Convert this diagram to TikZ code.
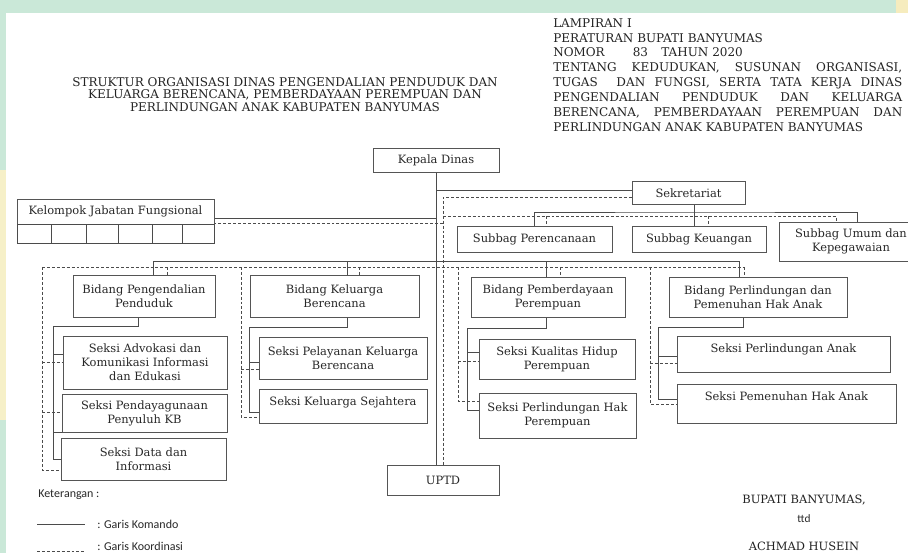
\documentclass[tikz,border=0pt]{standalone}
\usepackage{fontspec}
\setmainfont{DejaVu Serif}
\newfontfamily\ketfont{Carlito}
\usetikzlibrary{calc}

\tikzset{
  unit/.style={draw={rgb, 255:red, 85; green, 85; blue, 85}, line width=0.75pt, fill=white, align=center, inner sep=0pt,
    text={rgb, 255:red, 40; green, 40; blue, 40}, font=\fontsize{8.6}{10.4}\selectfont},
  size/.style 2 args={minimum width=#1*0.75pt, minimum height=#2*0.75pt},
  komando/.style={draw={rgb, 255:red, 75; green, 75; blue, 75}, line width=0.75pt},
  koord/.style={draw={rgb, 255:red, 75; green, 75; blue, 75}, line width=0.6pt, dash pattern={on 2.2pt off 1.5pt}},
  judul/.style={inner sep=0pt, text={rgb, 255:red, 35; green, 35; blue, 35}, font=\fontsize{9}{9.5}\selectfont},
  ketlabel/.style={inner sep=0pt, text={rgb, 255:red, 40; green, 40; blue, 40}, font=\ketfont\fontsize{9}{10}\selectfont},
  raised/.style={text depth=#1},
}

\begin{document}
\begin{tikzpicture}[x=0.75pt,y=0.75pt,yscale=-1,xscale=1]
\useasboundingbox (0,0) rectangle (908,553);
\clip (0,0) rectangle (908,553);

%Background: page on the green watermark
\fill[color={rgb, 255:red, 202; green, 232; blue, 216}] (0,0) rectangle (908,553);
\fill[color={rgb, 255:red, 246; green, 240; blue, 200}] (0,170) rectangle (6,420);
\fill[color={rgb, 255:red, 246; green, 236; blue, 190}] (896,0) rectangle (908,13);
\fill[white] (6,13) rectangle (908,553);

% Text Node: title
\node[judul, align=center] (title) at (285,94.3) {STRUKTUR ORGANISASI DINAS PENGENDALIAN PENDUDUK DAN\\KELUARGA BERENCANA, PEMBERDAYAAN PEREMPUAN DAN\\PERLINDUNGAN ANAK KABUPATEN BANYUMAS};
% Text Node: lampiran
\node[judul, anchor=north west, align=left, font=\fontsize{9}{11.14}\selectfont] (lampiran) at (553,18.2) {LAMPIRAN I\\
PERATURAN BUPATI BANYUMAS\\
NOMOR\hspace{21pt}83\hspace{10pt}TAHUN 2020\\
\makebox[261.75pt][s]{TENTANG KEDUDUKAN, SUSUNAN ORGANISASI,}\\
\makebox[261.75pt][s]{TUGAS \ DAN FUNGSI, SERTA TATA KERJA DINAS}\\
\makebox[261.75pt][s]{PENGENDALIAN PENDUDUK DAN KELUARGA}\\
\makebox[261.75pt][s]{BERENCANA, PEMBERDAYAAN PEREMPUAN DAN}\\
PERLINDUNGAN ANAK KABUPATEN BANYUMAS};

%Shape: Rectangle -- top level
\node[unit, size={126}{24}] (kadis) at (436,160) {Kepala Dinas};
\node[unit, size={113}{23}] (sekre) at (688.5,193) {Sekretariat};
\node[unit, size={197}{25}] (kjf) at (115.5,211.5) {Kelompok Jabatan Fungsional};
\foreach \a/\b in {17/51,51/86,86/118,118/152,152/182,182/214}
  \draw[komando] (\a,224) rectangle (\b,243);
\node[unit, size={112}{30}] (uptd) at (443,480) {UPTD};

%Shape: Rectangle -- subbag
\node[unit, size={155}{26}] (sbpr) at (534.5,239) {Subbag Perencanaan};
\node[unit, size={134}{26}] (sbkeu) at (699,239) {Subbag Keuangan};
\node[unit, size={144}{39}] (sbumum) at (851,241.5) {Subbag Umum dan\\Kepegawaian};

%Shape: Rectangle -- bidang
\node[unit, size={142}{42}] (bid1) at (144,296) {Bidang Pengendalian\\Penduduk};
\node[unit, size={169}{42}] (bid2) at (334.5,296) {Bidang Keluarga\\Berencana};
\node[unit, size={154}{40}] (bid3) at (548,297) {Bidang Pemberdayaan\\Perempuan};
\node[unit, size={178}{40}] (bid4) at (758,297) {Bidang Perlindungan dan\\Pemenuhan Hak Anak};

%Shape: Rectangle -- seksi
\node[unit, size={164}{53}] (s11) at (145,362.5) {Seksi Advokasi dan\\Komunikasi Informasi\\dan Edukasi};
\node[unit, size={165}{38}] (s12) at (144.5,413) {Seksi Pendayagunaan\\Penyuluh KB};
\node[unit, size={165}{42}] (s13) at (143.5,459) {Seksi Data dan\\Informasi};
\node[unit, size={168}{42}] (s21) at (343,358) {Seksi Pelayanan Keluarga\\Berencana};
\node[unit, size={168}{34}, raised=7.5pt] (s22) at (343,406) {Seksi Keluarga Sejahtera};
\node[unit, size={156}{40}] (s31) at (557,359) {Seksi Kualitas Hidup\\Perempuan};
\node[unit, size={157}{45}] (s32) at (557.5,415.5) {Seksi Perlindungan Hak\\Perempuan};
\node[unit, size={213}{36}, raised=9pt] (s41) at (783.5,354) {Seksi Perlindungan Anak};
\node[unit, size={219}{39}, raised=11.25pt] (s42) at (786.5,403.5) {Seksi Pemenuhan Hak Anak};

%Straight Lines -- garis komando, top
\draw[komando] (kadis.south) -- (kadis.south |- uptd.north);
\coordinate (jsek) at (436,190);
\draw[komando] (jsek) -- (jsek -| sekre.west);
\coordinate (jkjf) at (436,218);
\draw[komando] (jkjf) -- (jkjf -| kjf.east);

%Straight Lines -- garis koordinasi, top
\coordinate (dtop) at (443,197);
\draw[koord] (dtop -| sekre.west) -- (dtop) -- (dtop |- uptd.north);
\coordinate (dkjf) at (443,223);
\draw[koord] (dkjf) -- (dkjf -| kjf.east);

%Straight Lines -- sekretariat
\coordinate (sbus) at (694,212);
\coordinate (sbum) at (857,212);
\draw[komando] (sbus |- sekre.south) -- (sbus |- sbkeu.north);
\draw[komando] (sbpr.north) |- (sbus) -- (sbum) -- (sbum |- sbumum.north);
\coordinate (dsb) at (443,216);
\coordinate (dsum) at (836,216);
\draw[koord] (dsb) -- (dsum) -- (dsum |- sbumum.north);
\coordinate (dspr) at (546,216);
\draw[koord] (dspr) -- (dspr |- sbpr.north);
\coordinate (dskeu) at (708,216);
\draw[koord] (dskeu) -- (dskeu |- sbkeu.north);

%Straight Lines -- bidang
\coordinate (bb1) at (153,261);
\coordinate (bb2) at (347,261);
\coordinate (bb3) at (546,261);
\coordinate (bb4) at (739,261);
\draw[komando] (bb1) -- (bb4);
\foreach \i in {1,...,4}
  \draw[komando] (bb\i) -- (bb\i |- bid\i.north);
\coordinate (bd1) at (167,267);
\coordinate (bd2) at (359,267);
\coordinate (bd3) at (560,267);
\coordinate (bd4) at (744,267);
\coordinate (gd1) at (42,267);
\coordinate (gd2) at (241,267);
\coordinate (gd3) at (458,267);
\coordinate (gd4) at (650,267);
\draw[koord] (gd1) -- (bd4);
\foreach \i in {1,...,4}
  \draw[koord] (bd\i) -- (bd\i |- bid\i.north);

%Straight Lines -- bidang pengendalian penduduk
\coordinate (g1a) at (138,326);
\coordinate (g1b) at (53,326);
\coordinate (c11) at (53,354);
\coordinate (c12) at (53,432);
\draw[komando] (g1a |- bid1.south) -- (g1a) -- (g1b) |- (s13.west);
\draw[komando] (c11) -- (c11 -| s11.west);
\draw[komando] (c12) -- (c12 -| s12.west);
\coordinate (e11) at (42,362);
\coordinate (e12) at (42,412);
\coordinate (e13) at (42,470);
\draw[koord] (gd1) -- (e13) -- (e13 -| s13.west);
\draw[koord] (e11) -- (e11 -| s11.west);
\draw[koord] (e12) -- (e12 -| s12.west);

%Straight Lines -- bidang keluarga berencana
\coordinate (g2a) at (347,327);
\coordinate (g2b) at (249,327);
\coordinate (c21) at (249,362);
\coordinate (c22) at (249,412);
\draw[komando] (g2a |- bid2.south) -- (g2a) -- (g2b) -- (c22) -- (c22 -| s22.west);
\draw[komando] (c21) -- (c21 -| s21.west);
\coordinate (e21) at (241,369);
\coordinate (e22) at (241,417);
\draw[koord] (gd2) -- (e22) -- (e22 -| s22.west);
\draw[koord] (e21) -- (e21 -| s21.west);

%Straight Lines -- bidang pemberdayaan perempuan
\coordinate (g3a) at (546,328);
\coordinate (g3b) at (467,328);
\coordinate (c31) at (467,352);
\coordinate (c32) at (467,410);
\draw[komando] (g3a |- bid3.south) -- (g3a) -- (g3b) -- (c32) -- (c32 -| s32.west);
\draw[komando] (c31) -- (c31 -| s31.west);
\coordinate (e31) at (458,361);
\coordinate (e32) at (458,401);
\draw[koord] (gd3) -- (e32) -- (e32 -| s32.west);
\draw[koord] (e31) -- (e31 -| s31.west);

%Straight Lines -- bidang perlindungan anak
\coordinate (g4a) at (743,327);
\coordinate (g4b) at (658,327);
\coordinate (c41) at (658,356);
\coordinate (c42) at (658,399);
\draw[komando] (g4a |- bid4.south) -- (g4a) -- (g4b) -- (c42) -- (c42 -| s42.west);
\draw[komando] (c41) -- (c41 -| s41.west);
\coordinate (e41) at (650,363);
\coordinate (e42) at (650,404);
\draw[koord] (gd4) -- (e42) -- (e42 -| s42.west);
\draw[koord] (e41) -- (e41 -| s41.west);

% Text Node: keterangan
\node[ketlabel, anchor=west] (ket) at (38,495) {Keterangan :};
\coordinate (lk1) at (37,524);
\coordinate (lk2) at (85,524);
\draw[komando] (lk1) -- (lk2);
\node[ketlabel, anchor=west] (lkom) at (97,524) {: Garis Komando};
\coordinate (lc1) at (37,551);
\coordinate (lc2) at (85,551);
\draw[koord] (lc1) -- (lc2);
\node[ketlabel, anchor=west] (lkoor) at (97,546) {: Garis Koordinasi};

% Text Node: tanda tangan
\node[judul, font=\fontsize{8.6}{10}\selectfont] (bupati) at (804,500) {BUPATI BANYUMAS,};
\node[ketlabel, font=\ketfont\fontsize{8.5}{9}\selectfont] (ttd) at (804,519) {ttd};
\node[judul, font=\fontsize{8.6}{10}\selectfont] (nama) at (804,546) {ACHMAD HUSEIN};

\end{tikzpicture}
\end{document}
